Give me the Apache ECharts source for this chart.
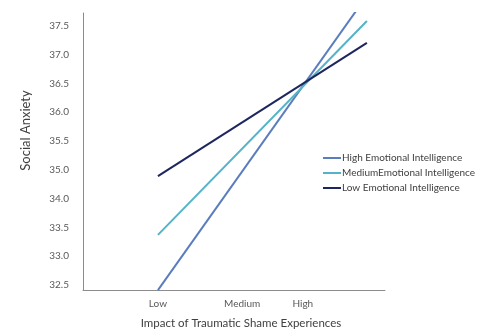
<!DOCTYPE html>
<html>
<head>
<meta charset="utf-8">
<script src="https://cdn.jsdelivr.net/npm/echarts@6/dist/echarts.min.js"></script>
<style>html,body{margin:0;padding:0;background:#fff}#c{width:495px;height:331px}</style>
</head>
<body>
<div id="c"></div>
<script>
// x positions: 1 = Low, 4 = end of the plotted range
const xValues = [1, 4];
// tick labels of the x axis and where they sit on the x scale
const xLabels = ['Low', 'Medium', 'High'];
const xLabelPos = [1, 2.21, 3.08];
// y tick labels as printed in the original (evenly spaced, 34.5 absent)
const yTicks = [32.5, 33.0, 33.5, 34.0, 35.0, 35.5, 36.0, 36.5, 37.0, 37.5];
// series values (Social Anxiety) at xValues
const seriesNames = ['High Emotional Intelligence', 'MediumEmotional Intelligence', 'Low Emotional Intelligence'];
const highEI = [32.41, 38.02];
const mediumEI = [33.37, 37.58];
const lowEI = [34.78, 37.2];

// map a value onto the evenly spaced printed tick slots
function toSlot(v) {
  const n = yTicks.length;
  if (v <= yTicks[0]) return (v - yTicks[0]) / (yTicks[1] - yTicks[0]);
  if (v >= yTicks[n - 1]) return (n - 1) + (v - yTicks[n - 1]) / (yTicks[n - 1] - yTicks[n - 2]);
  for (let i = 0; i < n - 1; i++) {
    if (v >= yTicks[i] && v <= yTicks[i + 1]) return i + (v - yTicks[i]) / (yTicks[i + 1] - yTicks[i]);
  }
}
const mk = arr => arr.map((v, i) => [xValues[i], toSlot(v)]);

const chart = echarts.init(document.getElementById('c'));
const axisCol = '#8c8c8c';
const font = 'Lato';
chart.setOption({
  animation: false,
  backgroundColor: '#ffffff',
  grid: { left: 83, right: 110, top: 13, bottom: 41, containLabel: false, outerBoundsMode: 'none' },
  xAxis: {
    type: 'value', min: -0.076, max: 4.26,
    axisLine: { show: true, onZero: false, lineStyle: { color: axisCol, width: 1 } },
    axisTick: { show: false },
    splitLine: { show: false },
    axisLabel: {
      customValues: xLabelPos,
      formatter: v => { const i = xLabelPos.indexOf(v); return i >= 0 ? xLabels[i] : ''; },
      color: '#595959', fontSize: 10, fontFamily: font, margin: 9
    },
    name: 'Impact of Traumatic Shame Experiences',
    nameLocation: 'middle', nameGap: 27,
    nameTextStyle: { color: '#404040', fontSize: 11.5, fontFamily: font, padding: [0, 0, 0, 14] }
  },
  yAxis: {
    type: 'value', min: -0.174, max: 9.44,
    axisLine: { show: true, onZero: false, lineStyle: { color: axisCol, width: 1 } },
    axisTick: { show: false },
    splitLine: { show: false },
    axisLabel: {
      customValues: yTicks.map((t, i) => i),
      formatter: v => { const t = yTicks[Math.round(v)]; return t === undefined ? '' : t.toFixed(1); },
      color: '#595959', fontSize: 10, fontFamily: font, margin: 14
    },
    name: 'Social Anxiety',
    nameLocation: 'middle', nameGap: 51, nameRotate: 90,
    nameTextStyle: { color: '#404040', fontSize: 13, fontFamily: font, padding: [0, 0, 0, 42] }
  },
  legend: {
    orient: 'vertical', left: 318, top: 148,
    icon: 'rect',
    itemWidth: 18, itemHeight: 2, itemGap: 5,
    textStyle: { color: '#404040', fontSize: 10, fontFamily: font, padding: [0, 0, 0, -4] },
    data: seriesNames
  },
  series: [
    { name: seriesNames[0], type: 'line', data: mk(highEI), symbol: 'none', clip: true,
      lineStyle: { color: '#5a7dbd', width: 2 }, itemStyle: { color: '#5a7dbd' } },
    { name: seriesNames[1], type: 'line', data: mk(mediumEI), symbol: 'none', clip: true,
      lineStyle: { color: '#55b3c7', width: 2 }, itemStyle: { color: '#55b3c7' } },
    { name: seriesNames[2], type: 'line', data: mk(lowEI), symbol: 'none', clip: true,
      lineStyle: { color: '#1d265f', width: 2 }, itemStyle: { color: '#1d265f' } }
  ]
});
</script>
</body>
</html>
